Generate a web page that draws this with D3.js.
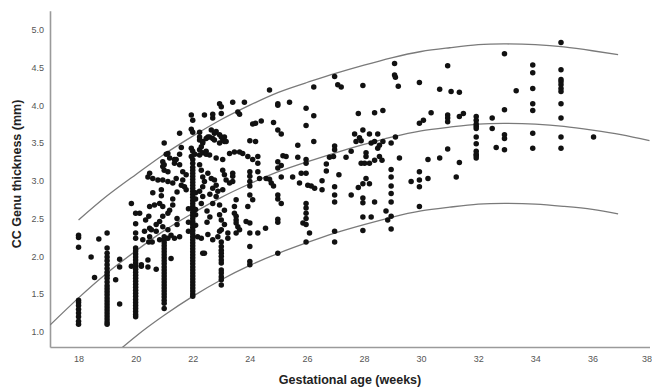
<!DOCTYPE html>
<html>
<head>
<meta charset="utf-8">
<script src="https://cdn.jsdelivr.net/npm/d3@7"></script>
<style>
  body { margin: 0; background: #fff; }
  text { font-family: "Liberation Sans", Arial, sans-serif; }
</style>
</head>
<body>
<svg id="chart" width="652" height="388"></svg>
<script>
// tick labels
const ageTicks = [18, 20, 22, 24, 26, 28, 30, 32, 34, 36, 38]
const thicknessTicks = [1.0, 1.5, 2.0, 2.5, 3.0, 3.5, 4.0, 4.5, 5.0]

// fitted curve (mean) and its upper / lower bounds
const meanWeeks = [17, 18, 19, 20, 21, 22, 23, 24, 25, 26, 27, 28, 29, 30, 31, 32, 33, 34, 35, 36, 37, 38]
const meanMm = [1.09, 1.45, 1.78, 2.07, 2.34, 2.57, 2.78, 2.96, 3.12, 3.25, 3.37, 3.48, 3.58, 3.66, 3.71, 3.75, 3.76, 3.75, 3.72, 3.67, 3.61, 3.53]
const upperWeeks = [18, 19, 20, 21, 22, 23, 24, 25, 26, 27, 28, 29, 30, 31, 32, 33, 34, 35, 36, 36.9]
const upperMm = [2.48, 2.80, 3.08, 3.35, 3.59, 3.81, 4.00, 4.17, 4.30, 4.42, 4.53, 4.63, 4.71, 4.76, 4.80, 4.81, 4.80, 4.77, 4.72, 4.67]
const lowerWeeks = [19, 20, 21, 22, 23, 24, 25, 26, 27, 28, 29, 30, 31, 32, 33, 34, 35, 36, 36.9]
const lowerMm = [0.62, 0.94, 1.22, 1.47, 1.69, 1.88, 2.04, 2.18, 2.31, 2.42, 2.52, 2.60, 2.65, 2.69, 2.70, 2.69, 2.66, 2.62, 2.56]

// observations: [gestational age, [CC genu thickness values]]
const genuByAge = [
  [18.0, [2.28, 2.25, 2.12, 1.42, 1.39, 1.35, 1.30, 1.25, 1.20, 1.14, 1.10]],
  [18.44, [1.99]],
  [18.56, [1.72]],
  [18.71, [2.23]],
  [19.0, [2.31, 2.11, 2.04, 1.99, 1.94, 1.89, 1.84, 1.79, 1.75, 1.71, 1.66, 1.61, 1.57, 1.53, 1.49, 1.45, 1.41, 1.37, 1.33, 1.29, 1.25, 1.21, 1.17, 1.13, 1.10]],
  [19.3, [1.69]],
  [19.44, [1.96, 1.86, 1.37]],
  [19.85, [2.70, 1.87]],
  [20.0, [2.57, 2.43, 2.31, 2.24, 2.11, 2.07, 2.03, 1.99, 1.95, 1.91, 1.87, 1.83, 1.79, 1.75, 1.71, 1.67, 1.63, 1.59, 1.55, 1.51, 1.47, 1.43, 1.39, 1.35, 1.31, 1.27, 1.23, 1.20]],
  [20.14, [2.57]],
  [20.2, [1.89, 1.87]],
  [20.25, [2.22]],
  [20.31, [2.33]],
  [20.35, [2.48]],
  [20.43, [3.05, 1.95, 1.86]],
  [20.46, [2.53, 2.19]],
  [20.49, [3.10, 2.66, 2.37, 2.26]],
  [20.55, [2.35]],
  [20.58, [2.19]],
  [20.6, [3.03, 2.84]],
  [20.66, [2.68]],
  [20.72, [2.42, 2.33, 1.83]],
  [20.78, [3.01]],
  [20.84, [2.70, 2.46, 2.22]],
  [20.9, [2.88, 2.80]],
  [20.95, [3.25, 3.19, 3.01, 2.66, 2.53, 2.39]],
  [21.0, [3.50, 3.21, 3.14, 2.26, 2.22, 2.18, 2.14, 2.10, 2.06, 2.02, 1.98, 1.94, 1.90, 1.86, 1.82, 1.78, 1.74, 1.70, 1.66, 1.62, 1.58, 1.54, 1.50, 1.46, 1.42, 1.38, 1.31]],
  [21.07, [3.35]],
  [21.13, [3.36, 3.12, 2.99, 2.57, 2.35, 2.24]],
  [21.19, [3.30, 2.61]],
  [21.24, [2.28, 1.97]],
  [21.3, [2.97, 2.76, 2.68]],
  [21.36, [3.28, 3.23, 2.24]],
  [21.42, [3.28, 3.03]],
  [21.45, [2.85, 2.50, 2.42]],
  [21.54, [3.63, 3.35, 3.21, 2.26]],
  [21.6, [3.44, 2.94]],
  [21.65, [3.12, 3.01]],
  [21.71, [2.92]],
  [21.77, [3.08, 2.88]],
  [21.85, [2.63, 2.45, 2.33]],
  [21.95, [3.87, 3.68, 3.43, 3.32]],
  [22.0, [3.80, 3.64, 3.39, 3.28, 3.23, 3.18, 3.14, 3.10, 3.06, 3.02, 2.98, 2.94, 2.90, 2.86, 2.82, 2.78, 2.74, 2.70, 2.66, 2.62, 2.58, 2.54, 2.50, 2.46, 2.42, 2.38, 2.34, 2.30, 2.26, 2.22, 2.18, 2.14, 2.10, 2.06, 2.02, 1.98, 1.94, 1.90, 1.86, 1.82, 1.78, 1.74, 1.70, 1.66, 1.62, 1.58, 1.54, 1.50, 1.47]],
  [22.07, [3.35]],
  [22.1, [2.84, 2.76, 2.62, 2.55, 2.41]],
  [22.17, [2.26]],
  [22.24, [3.64, 3.58, 3.54, 3.41, 3.34, 3.21, 2.86]],
  [22.3, [3.45, 3.14, 2.70, 2.24]],
  [22.35, [3.52, 3.50, 3.37, 3.05, 2.92, 2.79, 2.04]],
  [22.41, [3.87, 2.99, 2.04]],
  [22.47, [3.56, 3.39, 3.35]],
  [22.5, [2.60, 2.45]],
  [22.53, [3.58, 3.10, 2.29]],
  [22.59, [3.58, 3.34]],
  [22.6, [2.82, 2.52]],
  [22.65, [3.67, 3.03]],
  [22.7, [3.88, 3.83, 3.56, 2.90, 2.70, 2.22]],
  [22.76, [3.63, 3.54, 3.01]],
  [22.82, [3.65, 3.30, 2.94, 2.79]],
  [22.88, [2.86, 2.26]],
  [22.94, [4.02, 3.61, 3.50, 2.68, 2.55, 2.33]],
  [23.0, [3.98, 3.89, 3.58, 2.48, 2.35, 2.19, 2.13, 2.08, 2.04, 2.00, 1.95, 1.91, 1.82, 1.78, 1.73, 1.69, 1.62]],
  [23.05, [3.54, 3.28, 3.14, 2.88]],
  [23.11, [3.58, 3.52, 3.08, 2.61, 2.42]],
  [23.17, [3.52, 3.01]],
  [23.23, [2.31, 2.24]],
  [23.29, [3.36, 2.97]],
  [23.4, [4.04, 3.10, 3.06, 2.99]],
  [23.46, [3.38, 2.66, 2.57]],
  [23.52, [2.75, 2.53, 2.48, 2.44, 2.31]],
  [23.58, [3.91, 2.39]],
  [23.64, [3.88, 3.38, 2.35]],
  [23.75, [3.36]],
  [23.81, [4.04]],
  [23.87, [2.46]],
  [23.93, [3.32, 2.66]],
  [24.0, [3.53, 3.12, 3.06, 2.99, 2.93, 2.81, 2.44, 2.31, 2.13, 1.93, 1.89]],
  [24.1, [3.75, 3.28, 2.75]],
  [24.2, [3.76, 3.52]],
  [24.28, [3.32, 3.23, 3.12, 2.31]],
  [24.34, [3.03]],
  [24.4, [3.79]],
  [24.55, [2.37]],
  [24.57, [3.03]],
  [24.69, [4.20, 3.02]],
  [24.75, [2.97]],
  [24.83, [3.77, 2.93]],
  [24.98, [4.02, 4.00, 3.67, 3.25, 3.17, 2.81, 2.76, 2.49, 2.45, 2.04]],
  [25.1, [3.62, 3.20, 3.05, 2.70]],
  [25.16, [3.33]],
  [25.27, [3.32]],
  [25.39, [4.04]],
  [25.5, [3.05]],
  [25.68, [3.47, 3.31]],
  [25.74, [2.97]],
  [25.8, [3.10]],
  [25.86, [2.44]],
  [25.97, [3.96, 3.73, 3.28, 3.23, 3.10, 2.70, 2.64, 2.57, 2.50, 2.42, 2.19]],
  [26.03, [2.94]],
  [26.09, [2.31]],
  [26.15, [2.93]],
  [26.24, [4.24, 3.86, 3.52]],
  [26.27, [2.90]],
  [26.53, [3.00, 2.88]],
  [26.68, [3.22, 3.13]],
  [26.79, [3.31]],
  [26.93, [3.32]],
  [26.97, [4.38, 3.46, 3.41, 2.92, 2.81, 2.72, 2.33, 2.19]],
  [27.08, [4.27]],
  [27.12, [3.08]],
  [27.2, [4.24]],
  [27.37, [3.31]],
  [27.55, [3.39, 2.81]],
  [27.67, [3.62]],
  [27.72, [3.52]],
  [27.8, [3.89, 2.91]],
  [27.84, [3.57]],
  [27.9, [3.53, 3.23]],
  [27.96, [4.26, 3.67, 2.96, 2.77, 2.71, 2.52, 2.34]],
  [28.02, [3.23]],
  [28.07, [3.37, 3.32, 3.03]],
  [28.19, [3.62, 3.23, 2.96]],
  [28.25, [3.50, 2.52]],
  [28.37, [3.90, 3.52, 3.27, 2.72]],
  [28.48, [3.62, 3.43]],
  [28.54, [3.47, 3.32]],
  [28.63, [3.27]],
  [28.66, [3.93, 3.52]],
  [28.77, [2.60]],
  [28.83, [2.48]],
  [28.95, [3.50, 3.15, 3.05, 2.93, 2.83, 2.72, 2.53, 2.36]],
  [29.07, [4.55, 4.40]],
  [29.1, [4.37, 3.58]],
  [29.2, [4.25]],
  [29.24, [3.30]],
  [29.65, [2.99]],
  [29.94, [4.30, 3.76, 3.12, 3.01, 2.92, 2.66]],
  [30.08, [3.80]],
  [30.24, [3.28, 3.03]],
  [30.35, [3.90]],
  [30.65, [4.21, 3.30]],
  [30.93, [4.52, 3.87, 3.83, 3.78, 3.42]],
  [31.05, [4.18]],
  [31.23, [3.05]],
  [31.34, [4.17, 3.85, 3.24]],
  [31.48, [3.89]],
  [31.93, [3.85, 3.80, 3.75, 3.72, 3.69, 3.58, 3.49, 3.39, 3.35, 3.33, 3.30]],
  [32.49, [3.83, 3.69]],
  [32.63, [3.44]],
  [32.92, [4.68, 3.94, 3.61, 3.56, 3.41]],
  [33.33, [4.19]],
  [33.91, [4.53, 4.43, 4.22, 4.02, 3.93, 3.63, 3.43]],
  [34.9, [4.83, 4.47, 4.34, 4.31, 4.27, 4.22, 4.18, 4.02, 3.83, 3.58, 3.43]],
  [36.04, [3.58]]
]

const svg = d3.select('#chart')

const x = d3.scaleLinear().domain([17, 38]).range([50, 649.5])
const y = d3.scaleLinear().domain([0.8, 5.25]).range([347, 10.7])

// axes (no tick marks, just labels and grey frame lines)
const xAxis = svg.append('g')
    .attr('transform', 'translate(0,347)')
    .call(d3.axisBottom(x).tickValues(ageTicks).tickFormat(d3.format('d')).tickSize(0).tickPadding(9))
const yAxis = svg.append('g')
    .attr('transform', 'translate(50,0)')
    .call(d3.axisLeft(y).tickValues(thicknessTicks).tickFormat(d3.format('.1f')).tickSize(0).tickPadding(6))

svg.selectAll('.domain').attr('stroke', '#9a9a9a').attr('stroke-width', 1.6)
svg.selectAll('.tick text').attr('fill', '#555').style('font-size', '9px')

// last age label sits on the right edge: keep it inside the frame
xAxis.selectAll('.tick')
  .filter(d => d === 38)
  .select('text')
    .attr('text-anchor', 'end')
    .attr('dx', 2)

// clip for fitted curves
svg.append('clipPath').attr('id', 'plot-clip')
  .append('rect')
    .attr('x', 50).attr('y', 0)
    .attr('width', 602).attr('height', 347)

const line = d3.line()
    .x(d => x(d[0]))
    .y(d => y(d[1]))
    .curve(d3.curveNatural)

const curves = [
  d3.zip(meanWeeks, meanMm),
  d3.zip(upperWeeks, upperMm),
  d3.zip(lowerWeeks, lowerMm)
]

svg.append('g')
    .attr('clip-path', 'url(#plot-clip)')
  .selectAll('path')
  .data(curves)
  .enter().append('path')
    .attr('d', line)
    .attr('fill', 'none')
    .attr('stroke', '#7a7a7a')
    .attr('stroke-width', 1.3)

// points
const points = genuByAge.flatMap(g => g[1].map(v => [g[0], v]))

svg.append('g')
  .selectAll('circle')
  .data(points)
  .enter().append('circle')
    .attr('cx', d => x(d[0]))
    .attr('cy', d => y(d[1]))
    .attr('r', 2.75)
    .attr('fill', '#111')

// axis titles
svg.append('text')
    .attr('x', 350)
    .attr('y', 384)
    .attr('text-anchor', 'middle')
    .style('font-size', '12.5px')
    .style('font-weight', 'bold')
    .attr('fill', '#222')
    .text('Gestational age (weeks)')

svg.append('text')
    .attr('transform', 'translate(21,174) rotate(-90)')
    .attr('text-anchor', 'middle')
    .style('font-size', '12.5px')
    .style('font-weight', 'bold')
    .attr('fill', '#222')
    .text('CC Genu thickness (mm)')
</script>
</body>
</html>
